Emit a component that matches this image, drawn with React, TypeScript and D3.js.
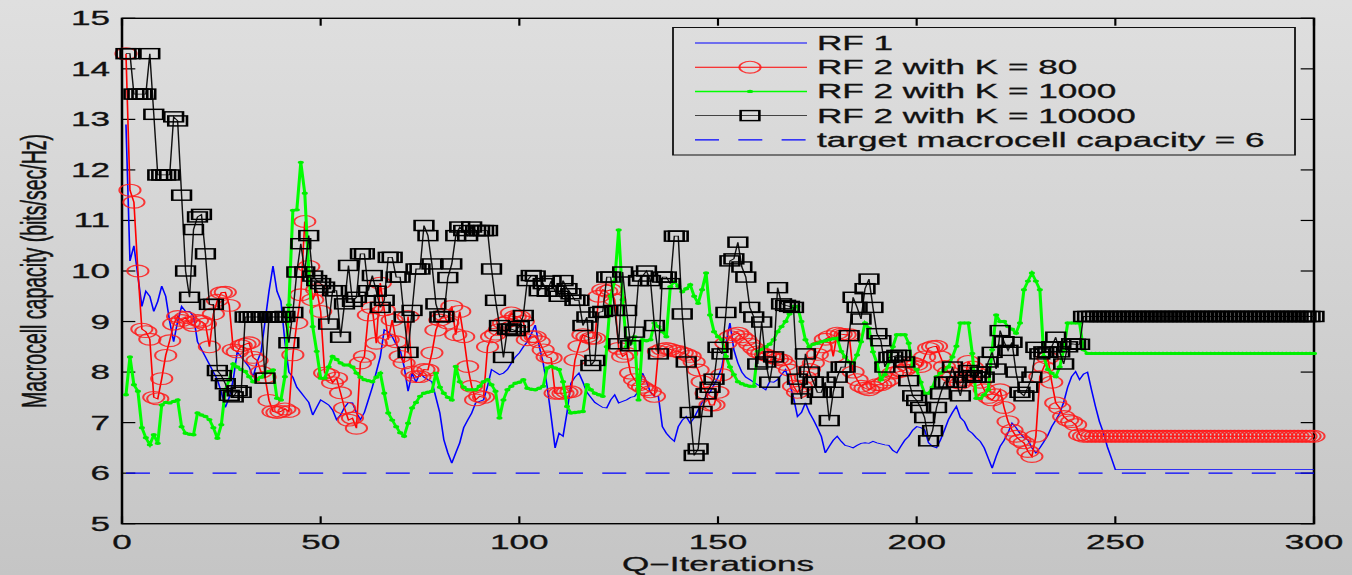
import React from 'react';
import * as d3 from 'd3';

// Horizontal stretch of the original figure
const S = 1.8;
const W = 1352;
const H = 575;

const iterations: number[] = d3.range(1, 301);

const xTicks = [0, 50, 100, 150, 200, 250, 300];
const yTicks = [5, 6, 7, 8, 9, 10, 11, 12, 13, 14, 15];
const targetCapacity = 6;

const seriesNames = [
  'RF 1',
  'RF 2 with K = 80',
  'RF 2 with K = 1000',
  'RF 2 with K = 10000',
  'target macrocell capacity = 6',
];

const rf1 = [
  12.9, 10.2, 10.5, 9.9, 9.3, 9.6, 9.5, 9.2, 9.4, 9.7,
  9.5, 9.0, 8.6, 9.0, 9.3, 9.2, 9.2, 9.1, 8.6, 8.45,
  8.3, 8.15, 8.0, 7.85, 7.6, 7.3, 7.5, 7.85, 8.4, 8.3,
  8.2, 8.1, 7.9, 8.2, 8.4, 9.0, 9.6, 10.1, 9.6, 9.4,
  8.6, 8.0, 7.9, 7.7, 7.6, 7.5, 7.4, 7.15, 7.3, 7.45,
  7.4, 7.35, 7.25, 7.06, 7.15, 7.3, 7.4, 7.39, 7.2, 7.06,
  7.2, 7.45, 7.7, 8.0, 8.3, 8.84, 8.8, 8.7, 8.55, 8.44,
  8.11, 7.62, 7.98, 7.8, 7.98, 7.9, 7.85, 7.81, 7.5, 7.19,
  6.66, 6.4, 6.2, 6.4, 6.6, 6.9, 7.05, 7.19, 7.39, 7.42,
  7.45, 7.72, 8.05, 8.0, 7.95, 7.98, 8.05, 8.18, 8.3, 8.38,
  8.5, 8.6, 8.75, 8.93, 8.51, 8.18, 7.72, 7.12, 6.5, 6.79,
  6.73, 7.2, 7.78, 7.9, 7.98, 7.8, 7.6, 7.5, 7.4, 7.35,
  7.3, 7.29, 7.45, 7.55, 7.39, 7.42, 7.45, 7.5, 7.52, 7.62,
  7.98, 7.81, 7.6, 7.52, 7.52, 6.92, 6.79, 6.7, 6.63, 6.92,
  7.05, 7.12, 6.99, 7.1, 7.25, 7.4, 7.52, 7.6, 7.75, 7.9,
  8.11, 8.57, 8.97, 8.44, 8.18, 8.0, 7.9, 7.85, 7.8, 7.75,
  7.7, 7.65, 7.81, 7.8, 7.85, 7.95, 8.05, 7.78, 7.5, 7.12,
  7.2, 7.39, 7.2, 7.06, 6.9, 6.73, 6.4, 6.53, 6.65, 6.73,
  6.63, 6.55, 6.53, 6.5, 6.55, 6.59, 6.6, 6.59, 6.63, 6.6,
  6.58, 6.56, 6.55, 6.45, 6.4, 6.53, 6.65, 6.73, 6.85, 6.92,
  6.9, 6.86, 6.6, 6.53, 6.5, 6.66, 6.85, 7.06, 7.2, 7.32,
  7.1, 7.02, 6.85, 6.79, 6.7, 6.63, 6.5, 6.3, 6.1, 6.33,
  6.53, 6.65, 6.8, 6.99, 6.9, 6.79, 6.7, 6.66, 6.5, 6.4,
  6.5, 6.62, 6.75, 6.92, 7.05, 7.19, 7.4, 7.7, 7.91, 8.01,
  7.85, 7.96, 8.0, 7.65, 7.32, 7.02, 6.8, 6.52, 6.3, 6.07,
  6.07, 6.07, 6.07, 6.07, 6.07, 6.07, 6.07, 6.07, 6.07, 6.07,
  6.07, 6.07, 6.07, 6.07, 6.07, 6.07, 6.07, 6.07, 6.07, 6.07,
  6.07, 6.07, 6.07, 6.07, 6.07, 6.07, 6.07, 6.07, 6.07, 6.07,
  6.07, 6.07, 6.07, 6.07, 6.07, 6.07, 6.07, 6.07, 6.07, 6.07,
  6.07, 6.07, 6.07, 6.07, 6.07, 6.07, 6.07, 6.07, 6.07, 6.07,
];

const rf2k80 = [
  14.3, 11.6, 11.36, 10.0, 8.85, 8.8, 8.65, 7.5, 7.47, 7.87,
  8.33, 8.62, 8.95, 9.1, 9.02, 9.08, 8.98, 8.92, 9.02, 9.0,
  8.95, 8.5, 9.15, 9.42, 9.57, 9.58, 9.32, 8.44, 8.4, 8.52,
  8.55, 8.58, 8.29, 8.23, 8.0, 7.9, 7.44, 7.22, 7.2, 7.22,
  7.27, 7.22, 8.34, 8.97, 9.53, 10.98, 10.09, 9.43, 9.63, 9.2,
  7.98, 7.95, 7.79, 7.88, 7.59, 7.29, 7.05, 7.09, 6.89, 8.18,
  8.31, 9.13, 9.27, 8.57, 9.76, 9.23, 8.64, 9.03, 8.6, 8.31,
  8.18, 9.1, 8.0, 7.91, 7.91, 8.05, 8.04, 8.38, 8.83, 9.03,
  9.13, 8.97, 9.3, 8.74, 9.2, 8.7, 8.11, 7.72, 7.45, 7.52,
  7.5, 8.5, 8.7, 8.75, 8.84, 8.97, 9.0, 9.17, 9.1, 9.1,
  9.0, 8.64, 8.7, 8.7, 8.6, 8.44, 8.3, 8.28, 7.58, 7.58,
  7.58, 7.6, 7.61, 8.24, 8.51, 8.74, 8.7, 8.67, 8.67, 9.5,
  9.63, 9.6, 9.63, 9.43, 8.47, 8.31, 8.37, 7.98, 7.85, 7.75,
  7.7, 7.65, 7.61, 7.52, 8.41, 8.45, 8.47, 8.45, 8.42, 8.41,
  8.38, 8.35, 8.31, 8.2, 8.04, 7.81, 7.58, 7.35, 7.35, 7.6,
  7.95, 8.57, 8.7, 8.74, 8.77, 8.7, 8.64, 8.55, 8.47, 8.4,
  8.37, 8.34, 8.31, 8.28, 8.26, 8.24, 8.15, 8.04, 7.72, 7.6,
  7.72, 7.9, 8.05, 8.18, 8.35, 8.5, 8.65, 8.7, 8.31, 8.77,
  8.75, 8.74, 8.74, 8.0, 7.85, 7.72, 7.68, 7.65, 7.7, 7.75,
  7.75, 7.8, 7.85, 7.98, 8.0, 8.02, 8.04, 8.1, 8.18, 8.15,
  8.11, 8.3, 8.47, 8.5, 8.51, 8.3, 8.11, 8.0, 7.91, 7.8,
  7.78, 7.85, 8.21, 8.1, 7.98, 7.8, 7.65, 7.5, 7.45, 7.55,
  7.65, 7.3, 7.02, 6.85, 6.73, 6.65, 6.6, 6.43, 6.33, 6.73,
  7.91, 8.1, 8.28, 7.8, 7.39, 7.29, 7.12, 7.05, 7.02, 6.96,
  6.76, 6.73, 6.73, 6.73, 6.73, 6.73, 6.73, 6.73, 6.73, 6.73,
  6.73, 6.73, 6.73, 6.73, 6.73, 6.73, 6.73, 6.73, 6.73, 6.73,
  6.73, 6.73, 6.73, 6.73, 6.73, 6.73, 6.73, 6.73, 6.73, 6.73,
  6.73, 6.73, 6.73, 6.73, 6.73, 6.73, 6.73, 6.73, 6.73, 6.73,
  6.73, 6.73, 6.73, 6.73, 6.73, 6.73, 6.73, 6.73, 6.73, 6.73,
  6.73, 6.73, 6.73, 6.73, 6.73, 6.73, 6.73, 6.73, 6.73, 6.73,
];

const rf2k1000 = [
  7.55, 8.3, 7.75, 7.62, 6.9, 6.7, 6.56, 6.76, 6.59, 7.35,
  7.4, 7.39, 7.42, 7.45, 6.92, 6.79, 6.77, 6.76, 7.19, 7.15,
  7.12, 7.06, 6.9, 6.69, 6.96, 7.65, 7.85, 8.16, 8.1, 8.05,
  8.01, 7.91, 7.81, 7.85, 7.9, 7.98, 8.01, 8.04, 7.48, 7.45,
  7.91, 9.33, 11.2, 11.21, 12.15, 11.54, 10.0, 8.9, 8.41, 7.88,
  7.88, 8.1, 8.31, 8.25, 8.18, 8.14, 8.14, 8.1, 7.98, 7.9,
  7.85, 7.83, 7.81, 7.9, 7.98, 7.58, 7.19, 7.05, 6.92, 6.8,
  6.73, 6.99, 7.29, 7.4, 7.52, 7.58, 7.6, 7.62, 7.98, 7.7,
  7.58, 7.5, 7.45, 8.11, 7.81, 7.7, 7.65, 7.65, 7.65, 7.72,
  7.81, 7.85, 7.75, 7.62, 7.09, 7.45, 7.65, 7.72, 7.78, 7.8,
  7.85, 7.68, 7.66, 7.65, 7.68, 7.72, 8.08, 8.11, 8.08, 8.05,
  7.81, 7.32, 7.19, 7.2, 7.21, 7.22, 7.75, 7.65, 7.58, 7.55,
  7.52, 8.5, 9.5, 9.8, 10.81, 9.43, 8.5, 8.57, 8.7, 7.45,
  8.64, 8.62, 8.64, 8.97, 8.9, 8.8, 8.7, 9.69, 9.79, 9.7,
  9.59, 9.65, 9.73, 9.5, 9.36, 9.63, 9.96, 9.13, 8.8, 8.7,
  8.64, 8.31, 8.1, 7.95, 7.81, 7.77, 7.74, 7.72, 7.72, 8.41,
  8.45, 8.5, 8.55, 8.64, 8.8, 8.9, 9.0, 9.15, 9.3, 9.3,
  9.0, 8.64, 8.5, 8.55, 8.57, 8.6, 8.62, 8.64, 8.66, 8.67,
  8.41, 8.3, 8.2, 8.18, 8.34, 8.6, 8.97, 8.87, 8.4, 8.18,
  7.85, 7.95, 8.2, 8.5, 8.74, 8.74, 8.74, 8.57, 8.11, 8.05,
  7.8, 7.58, 7.58, 7.7, 7.91, 7.98, 8.05, 8.1, 8.3, 8.51,
  8.97, 8.97, 8.97, 8.37, 7.48, 7.48, 7.55, 7.65, 8.44, 9.13,
  9.0, 9.0, 8.9, 8.85, 8.77, 8.97, 9.63, 9.8, 9.96, 9.8,
  9.63, 8.31, 8.05, 7.98, 7.91, 8.1, 8.44, 8.97, 8.97, 8.97,
  8.97, 8.44, 8.37, 8.37, 8.37, 8.37, 8.37, 8.37, 8.37, 8.37,
  8.37, 8.37, 8.37, 8.37, 8.37, 8.37, 8.37, 8.37, 8.37, 8.37,
  8.37, 8.37, 8.37, 8.37, 8.37, 8.37, 8.37, 8.37, 8.37, 8.37,
  8.37, 8.37, 8.37, 8.37, 8.37, 8.37, 8.37, 8.37, 8.37, 8.37,
  8.37, 8.37, 8.37, 8.37, 8.37, 8.37, 8.37, 8.37, 8.37, 8.37,
  8.37, 8.37, 8.37, 8.37, 8.37, 8.37, 8.37, 8.37, 8.37, 8.37,
];

const rf2k10000 = [
  14.3, 14.3, 13.5, 13.5, 13.5, 13.5, 14.3, 13.1, 11.9, 11.9,
  11.9, 11.9, 13.05, 12.97, 11.5, 10.0, 9.48, 10.82, 11.07, 11.12,
  10.34, 9.34, 9.34, 8.03, 7.93, 7.77, 7.54, 7.51, 7.63, 7.6,
  9.09, 9.09, 9.09, 9.09, 9.09, 7.88, 9.09, 9.09, 9.09, 9.09,
  9.1, 8.58, 9.18, 9.98, 10.54, 9.98, 10.7, 9.9, 9.81, 9.75,
  9.68, 8.95, 9.61, 9.61, 8.69, 9.35, 10.11, 9.4, 9.48, 10.34,
  10.34, 9.61, 9.91, 9.6, 9.28, 9.42, 10.27, 10.27, 9.88, 9.88,
  9.09, 8.39, 9.22, 10.04, 10.04, 10.9, 10.7, 10.14, 9.35, 9.09,
  9.1, 9.87, 10.14, 10.7, 10.87, 10.8, 10.7, 10.87, 10.8, 10.8,
  10.8, 10.8, 10.04, 9.42, 8.92, 8.29, 8.85, 8.85, 8.82, 8.9,
  9.12, 9.81, 9.91, 9.9, 9.61, 9.75, 9.6, 9.8, 9.6, 9.5,
  9.81, 9.65, 9.55, 9.42, 9.42, 8.92, 9.09, 8.13, 8.23, 9.18,
  9.2, 9.88, 9.88, 9.22, 8.56, 9.98, 9.22, 8.52, 8.79, 9.81,
  9.9, 10.0, 9.81, 8.92, 8.36, 9.88, 9.88, 9.75, 10.69, 10.69,
  9.15, 8.2, 7.2, 6.35, 6.48, 7.22, 7.57, 7.7, 7.86, 8.49,
  8.36, 9.18, 10.2, 10.24, 10.57, 10.08, 9.88, 9.28, 9.09, 8.16,
  8.99, 8.2, 7.8, 8.3, 9.67, 9.35, 9.32, 9.3, 9.28, 7.86,
  7.47, 8.36, 8.0, 7.8, 7.6, 7.6, 7.8, 7.04, 7.6, 7.9,
  8.1, 8.1, 8.72, 9.48, 9.28, 9.05, 9.65, 9.84, 9.28, 8.76,
  8.62, 8.1, 8.29, 8.3, 8.33, 8.33, 8.2, 7.83, 7.53, 7.44,
  7.3, 7.1, 6.64, 6.84, 7.3, 7.57, 7.8, 7.8, 8.1, 7.8,
  7.53, 7.9, 8.03, 7.93, 7.9, 8.0, 7.9, 8.2, 8.39, 8.06,
  8.82, 8.6, 8.43, 8.59, 8.0, 7.6, 7.53, 7.7, 7.9, 8.49,
  8.36, 8.4, 8.39, 8.5, 8.69, 8.4, 8.16, 8.5, 8.56, 8.55,
  8.55, 9.1, 9.1, 9.1, 9.1, 9.1, 9.1, 9.1, 9.1, 9.1,
  9.1, 9.1, 9.1, 9.1, 9.1, 9.1, 9.1, 9.1, 9.1, 9.1,
  9.1, 9.1, 9.1, 9.1, 9.1, 9.1, 9.1, 9.1, 9.1, 9.1,
  9.1, 9.1, 9.1, 9.1, 9.1, 9.1, 9.1, 9.1, 9.1, 9.1,
  9.1, 9.1, 9.1, 9.1, 9.1, 9.1, 9.1, 9.1, 9.1, 9.1,
  9.1, 9.1, 9.1, 9.1, 9.1, 9.1, 9.1, 9.1, 9.1, 9.1,
];

const FONT = '"Liberation Sans", Arial, Helvetica, sans-serif';

export default function App() {
  // coordinates in the un-stretched frame; whole group is scaled by S horizontally
  const x = d3.scaleLinear().domain([0, 300]).range([122 / S, 1314 / S]);
  const y = d3.scaleLinear().domain([5, 15]).range([523.7, 18.3]);

  const lineGen = d3
    .line<number>()
    .x((_, i) => x(iterations[i]))
    .y((v) => y(v));

  const x0 = x(0);
  const x1 = x(300);
  const yTop = y(15);
  const yBot = y(5);
  const tickLen = 7.4;

  // legend geometry
  const lgX0 = 673 / S;
  const lgX1 = 1295 / S;
  const lgY0 = 27.5;
  const lgY1 = 155;
  const lgLineA = 695 / S;
  const lgLineB = 807 / S;
  const lgMark = 750 / S;
  const lgText = 817 / S;
  const lgRows = [43, 67.2, 91.4, 115.6, 139.8];

  const fs = 19.5;
  const textStyle = {
    fontFamily: FONT,
    fontSize: fs,
    fill: '#111',
    stroke: '#111',
    strokeWidth: 0.3,
  } as const;

  const squareStroke = 1.45;
  const circleStroke = 1.1;

  return (
    <svg
      width={W}
      height={H}
      style={{ position: 'absolute', left: 0, top: 0, display: 'block' }}
    >
      <defs>
        <linearGradient id="bg" x1="0" y1="0" x2="0" y2="1">
          <stop offset="0%" stopColor="#dfdfdf" />
          <stop offset="100%" stopColor="#c5c5c5" />
        </linearGradient>
        <linearGradient id="bgl" gradientUnits="userSpaceOnUse" x1="0" y1="0" x2="0" y2={H}>
          <stop offset="0%" stopColor="#dfdfdf" />
          <stop offset="100%" stopColor="#c5c5c5" />
        </linearGradient>
      </defs>
      <rect x={0} y={0} width={W} height={H} fill="url(#bg)" />
      <g transform={`scale(${S},1)`}>
        {/* axes box */}
        <rect
          x={x0}
          y={yTop}
          width={x1 - x0}
          height={yBot - yTop}
          fill="none"
          stroke="#000"
          strokeWidth={1.4}
        />
        {/* y ticks */}
        {yTicks.map((t) => (
          <g key={'y' + t}>
            <line x1={x0} x2={x0 + tickLen} y1={y(t)} y2={y(t)} stroke="#000" strokeWidth={1.2} />
            <line x1={x1 - tickLen} x2={x1} y1={y(t)} y2={y(t)} stroke="#000" strokeWidth={1.2} />
            <text x={110 / S} y={y(t) + 7} textAnchor="end" {...textStyle}>
              {t}
            </text>
          </g>
        ))}
        {/* x ticks */}
        {xTicks.map((t) => (
          <g key={'x' + t}>
            <line x1={x(t)} x2={x(t)} y1={yBot} y2={yBot - tickLen} stroke="#000" strokeWidth={1.2} />
            <line x1={x(t)} x2={x(t)} y1={yTop} y2={yTop + tickLen} stroke="#000" strokeWidth={1.2} />
            <text x={x(t)} y={549} textAnchor="middle" {...textStyle}>
              {t}
            </text>
          </g>
        ))}
        <text x={(x0 + x1) / 2} y={571} textAnchor="middle" {...textStyle}>
          Q−Iterations
        </text>
        <text
          transform={`translate(${25.6},${(yTop + yBot) / 2}) rotate(-90)`}
          textAnchor="middle"
          {...textStyle}
        >
          Macrocell capacity (bits/sec/Hz)
        </text>

        {/* RF 1 */}
        <path d={lineGen(rf1) || ''} fill="none" stroke="#0000ff" strokeWidth={0.9} />

        {/* RF 2 K=80 */}
        <path d={lineGen(rf2k80) || ''} fill="none" stroke="#ff0000" strokeWidth={0.9} />
        <g fill="none" stroke="#ff1a1a" strokeWidth={circleStroke} strokeOpacity={0.85}>
          {rf2k80.map((v, i) => (
            <ellipse key={i} cx={x(iterations[i])} cy={y(v)} rx={5.9} ry={5.9} />
          ))}
        </g>

        {/* RF 2 K=1000 */}
        <path d={lineGen(rf2k1000) || ''} fill="none" stroke="#00ff00" strokeWidth={1.7} />
        <g fill="#00ee00">
          {rf2k1000.map((v, i) => (
            <circle key={i} cx={x(iterations[i])} cy={y(v)} r={1.7} />
          ))}
        </g>

        {/* RF 2 K=10000 */}
        <path d={lineGen(rf2k10000) || ''} fill="none" stroke="#111" strokeWidth={0.8} />
        <g fill="none" stroke="#000" strokeWidth={squareStroke}>
          {rf2k10000.map((v, i) => (
            <rect key={i} x={x(iterations[i]) - 5.2} y={y(v) - 5} width={10.4} height={10} />
          ))}
        </g>

        {/* target */}
        <line
          x1={x(iterations[0])}
          x2={x(iterations[iterations.length - 1])}
          y1={y(targetCapacity)}
          y2={y(targetCapacity)}
          stroke="#0000ff"
          strokeWidth={1.2}
          strokeDasharray={`${24 / S} ${19.3 / S}`}
        />

        {/* legend */}
        <rect
          x={lgX0}
          y={lgY0}
          width={lgX1 - lgX0}
          height={lgY1 - lgY0}
          fill="url(#bgl)"
          stroke="#111"
          strokeWidth={1}
        />
        <line x1={lgLineA} x2={lgLineB} y1={lgRows[0]} y2={lgRows[0]} stroke="#0000ff" strokeWidth={1} />
        <line x1={lgLineA} x2={lgLineB} y1={lgRows[1]} y2={lgRows[1]} stroke="#ff0000" strokeWidth={1} />
        <ellipse cx={lgMark} cy={lgRows[1]} rx={5.9} ry={5.9} fill="none" stroke="#ff1a1a" strokeWidth={circleStroke} strokeOpacity={0.85} />
        <line x1={lgLineA} x2={lgLineB} y1={lgRows[2]} y2={lgRows[2]} stroke="#00ff00" strokeWidth={1.5} />
        <circle cx={lgMark} cy={lgRows[2]} r={1.7} fill="#00ee00" />
        <line x1={lgLineA} x2={lgLineB} y1={lgRows[3]} y2={lgRows[3]} stroke="#111" strokeWidth={0.9} />
        <rect x={lgMark - 5.2} y={lgRows[3] - 5} width={10.4} height={10} fill="none" stroke="#000" strokeWidth={squareStroke} />
        <line
          x1={lgLineA}
          x2={lgLineB}
          y1={lgRows[4]}
          y2={lgRows[4]}
          stroke="#0000ff"
          strokeWidth={1.2}
          strokeDasharray={`${24 / S} ${19.3 / S}`}
        />
        {seriesNames.map((name, i) => (
          <text key={name} x={lgText} y={lgRows[i] + 7} {...textStyle}>
            {name}
          </text>
        ))}
      </g>
    </svg>
  );
}
